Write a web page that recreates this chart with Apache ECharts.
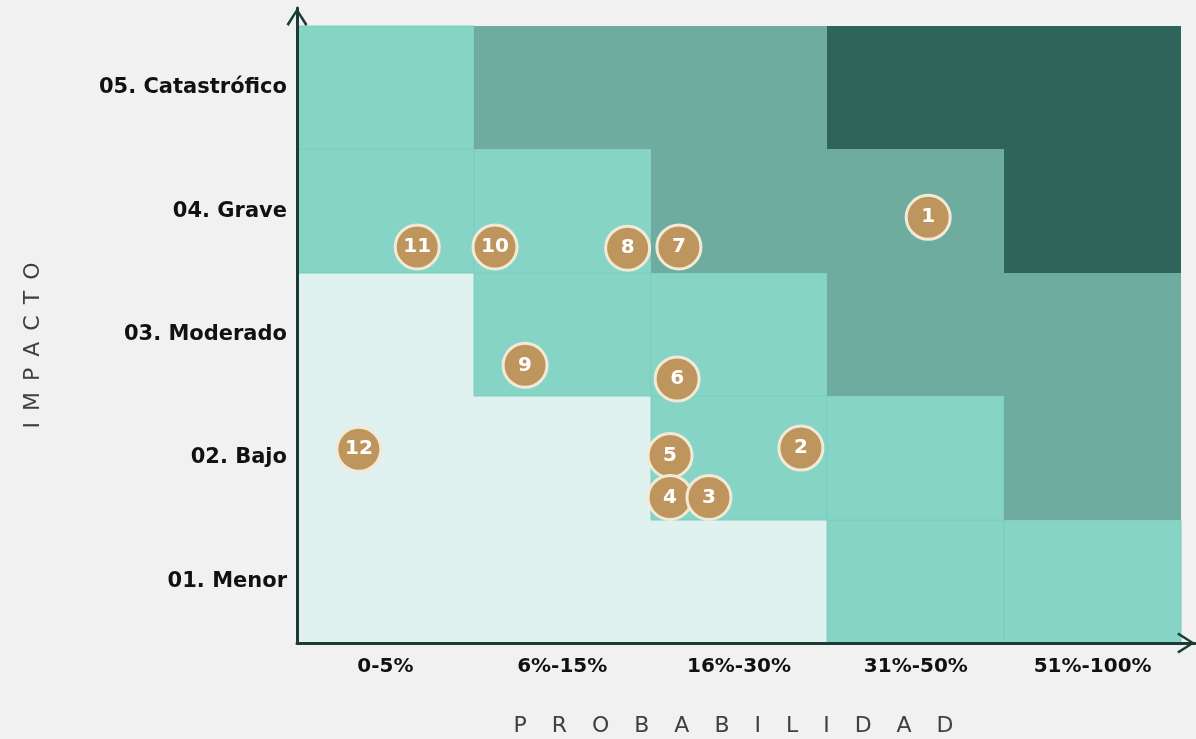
<!DOCTYPE html>
<html>
<head>
<meta charset="utf-8">
<script src="https://cdn.jsdelivr.net/npm/echarts@6/dist/echarts.min.js"></script>
<style>
html,body{margin:0;padding:0;background:#F1F1F1;}
#chart{width:1196px;height:739px;}
</style>
</head>
<body>
<div id="chart"></div>
<script>
// Categories
const probabilidad = ['0-5%', '6%-15%', '16%-30%', '31%-50%', '51%-100%'];
const impacto = ['01. Menor', '02. Bajo', '03. Moderado', '04. Grave', '05. Catastrófico'];

// Risk level per cell (0 = bajo ... 3 = crítico), one array per impact row
const nivelMenor        = [0, 0, 0, 1, 1];
const nivelBajo         = [0, 0, 1, 1, 2];
const nivelModerado     = [0, 1, 1, 2, 2];
const nivelGrave        = [1, 1, 2, 2, 3];
const nivelCatastrofico = [1, 2, 2, 3, 3];
const niveles = [nivelMenor, nivelBajo, nivelModerado, nivelGrave, nivelCatastrofico];

// Risks: id, probability position, impact position (in cell units)
const riesgoId = [1, 2, 3, 4, 5, 6, 7, 8, 9, 10, 11, 12];
const riesgoProb = [3.57, 2.85, 2.33, 2.11, 2.11, 2.15, 2.16, 1.87, 1.29, 1.12, 0.68, 0.35];
const riesgoImpacto = [3.45, 1.58, 1.18, 1.18, 1.52, 2.14, 3.21, 3.20, 2.25, 3.21, 3.21, 1.57];

const nivelColores = ['#DFF2EF', '#86D4C5', '#6EACA0', '#2F645B'];
const nivelBordes = [null, '#7BCEBD', null, null];

const cellData = [];
niveles.forEach((fila, r) => fila.forEach((lv, c) => cellData.push([c, r, lv])));

const pointData = [];
for (let i = riesgoId.length - 1; i >= 0; i--) {
  pointData.push({ value: [riesgoProb[i], riesgoImpacto[i]], name: String(riesgoId[i]) });
}

function espaciado(txt, sep) { return txt.split('').join(sep); }

const FONT = 'DejaVu Sans';
const arrow = 'path://M10,0 L20,15.5 L18,17 L10,4 L2,17 L0,15.5 Z';
const axisLineCommon = {
  show: true,
  lineStyle: { color: '#1B3C34', width: 3 },
  symbol: ['none', arrow],
  symbolSize: [21, 18],
  symbolOffset: [0, -9]
};

const chart = echarts.init(document.getElementById('chart'), null, { renderer: 'canvas' });
chart.setOption({
  backgroundColor: '#F1F1F1',
  animation: false,
  grid: { left: 297, right: 1, top: 8, bottom: 96, containLabel: false, outerBoundsMode: 'none' },
  xAxis: {
    type: 'value', min: 0, max: 5.079, interval: 0.5, z: 10,
    axisLine: axisLineCommon,
    axisTick: { show: false },
    splitLine: { show: false },
    axisLabel: {
      margin: 14, color: '#111', fontFamily: FONT, fontWeight: 'bold', fontSize: 20,
      formatter: v => { const i = v - 0.5; return (Number.isInteger(i) && i >= 0 && i < 5) ? probabilidad[i] : ''; }
    },
    name: espaciado('PROBABILIDAD', '\u2002  '),
    nameLocation: 'middle', nameGap: 72,
    nameTextStyle: { color: '#404040', fontFamily: FONT, fontSize: 22, padding: [0, 25, 0, 0] }
  },
  yAxis: {
    type: 'value', min: 0, max: 5.146, interval: 0.5, z: 10, offset: 2,
    axisLine: axisLineCommon,
    axisTick: { show: false },
    splitLine: { show: false },
    axisLabel: {
      margin: 8, color: '#111', fontFamily: FONT, fontWeight: 'bold', fontSize: 21,
      formatter: v => { const i = v - 0.5; return (Number.isInteger(i) && i >= 0 && i < 5) ? impacto[i] : ''; }
    },
    name: espaciado('IMPACTO', '\u2002'),
    nameLocation: 'middle', nameGap: 251, nameRotate: 90,
    nameTextStyle: { color: '#404040', fontFamily: FONT, fontSize: 22, padding: [0, 40, 0, 0] }
  },
  series: [
    {
      type: 'custom',
      data: cellData,
      z: 1,
      renderItem: function (params, api) {
        const c = api.value(0), r = api.value(1), lv = api.value(2);
        const p0 = api.coord([c, r + 1]);
        const p1 = api.coord([c + 1, r]);
        const x0 = Math.round(p0[0]), y0 = Math.round(p0[1]);
        const x1 = Math.round(p1[0]), y1 = Math.round(p1[1]);
        const style = { fill: nivelColores[lv] };
        if (nivelBordes[lv]) { style.stroke = nivelBordes[lv]; style.lineWidth = 1; }
        return {
          type: 'rect',
          shape: { x: x0, y: y0, width: x1 - x0, height: y1 - y0 },
          style: style
        };
      }
    },
    {
      type: 'scatter',
      data: pointData,
      z: 5,
      symbol: 'circle',
      symbolSize: 44,
      itemStyle: { color: '#BE955C', borderColor: '#F3E9D7', borderWidth: 3, opacity: 1 },
      label: {
        show: true, position: 'inside', formatter: p => p.name,
        color: '#fff', fontFamily: FONT, fontWeight: 'bold', fontSize: 20
      }
    }
  ]
});
</script>
</body>
</html>
